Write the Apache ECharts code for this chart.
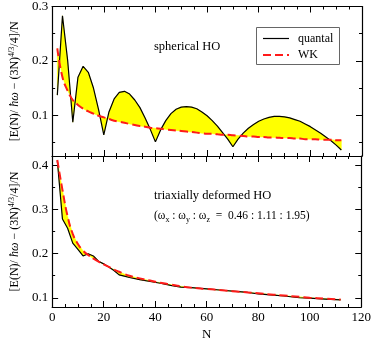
<!DOCTYPE html>
<html>
<head>
<meta charset="utf-8">
<script src="https://cdn.jsdelivr.net/npm/echarts@6/dist/echarts.min.js"></script>
<style>
  html, body { margin: 0; padding: 0; background: #fff; }
  #main { width: 374px; height: 342px; }
</style>
</head>
<body>
<div id="main"></div>
<script>
// spherical HO (upper panel), even particle numbers
var sphN = [2, 4, 6, 8, 10, 12, 14, 16, 18, 20,
  22, 24, 26, 28, 30, 32, 34, 36, 38, 40,
  42, 44, 46, 48, 50, 52, 54, 56, 58, 60, 62, 64, 66, 68, 70,
  72, 74, 76, 78, 80, 82, 84, 86, 88, 90, 92, 94, 96, 98, 100, 102, 104, 106, 108, 110, 112]
var sphQuantal = [0.137, 0.283, 0.201, 0.087, 0.170, 0.190, 0.179, 0.150, 0.110, 0.064,
  0.106, 0.130, 0.142, 0.144, 0.139, 0.128, 0.114, 0.095, 0.074, 0.051,
  0.073, 0.090, 0.103, 0.111, 0.115, 0.116, 0.115, 0.112, 0.106, 0.099, 0.090, 0.080, 0.068, 0.056, 0.042,
  0.056, 0.067, 0.076, 0.083, 0.089, 0.093, 0.096, 0.098, 0.098, 0.097, 0.095, 0.092, 0.089, 0.084, 0.079,
  0.073, 0.067, 0.060, 0.053, 0.045, 0.036]
var sphWK = [0.223, 0.170, 0.145, 0.128, 0.119, 0.112, 0.107, 0.103, 0.099, 0.096,
  0.093, 0.090, 0.088, 0.086, 0.084, 0.082, 0.080, 0.079, 0.077, 0.076,
  0.075, 0.074, 0.073, 0.072, 0.071, 0.070, 0.069, 0.068, 0.067, 0.066, 0.066, 0.065, 0.064, 0.064, 0.063,
  0.0625, 0.062, 0.061, 0.061, 0.060, 0.060, 0.059, 0.059, 0.0585, 0.058, 0.058, 0.057, 0.057, 0.056, 0.056,
  0.056, 0.055, 0.055, 0.055, 0.054, 0.054]

// triaxially deformed HO (lower panel)
var triN = [2, 4, 6, 8, 10, 12, 14, 16, 18, 20, 22, 24, 26, 28, 30, 34, 38, 42, 46, 50,
  54, 60, 66, 70, 76, 80, 86, 90, 96, 100, 106, 112]
var triQuantal = [0.412, 0.279, 0.258, 0.224, 0.210, 0.195, 0.200, 0.195, 0.183, 0.177,
  0.170, 0.162, 0.152, 0.149, 0.146, 0.141, 0.137, 0.133, 0.128, 0.124,
  0.123, 0.120, 0.117, 0.115, 0.112, 0.109, 0.106, 0.104, 0.100, 0.099, 0.097, 0.095]
var triWK = [0.413, 0.345, 0.285, 0.245, 0.222, 0.207, 0.197, 0.189, 0.182, 0.176,
  0.170, 0.164, 0.159, 0.154, 0.150, 0.144, 0.139, 0.134, 0.130, 0.126,
  0.123, 0.120, 0.117, 0.115, 0.112, 0.110, 0.107, 0.105, 0.102, 0.100, 0.098, 0.096]

var topMajor = [0.1, 0.2, 0.3]
var topMinor = [0.05, 0.15, 0.25]
var botMajor = [0.1, 0.2, 0.3, 0.4]
var botMinor = [0.15, 0.25, 0.35]

var serif = 'Liberation Serif'
var red = '#ff1a1a'

// outline of the region between two curves: lower edge forward, upper edge back,
// with the crossing points added so both edges meet there
function bandOutline(xs, a, b) {
  var lo = [], hi = []
  for (var i = 0; i < xs.length; i++) {
    lo.push([xs[i], Math.min(a[i], b[i])])
    hi.push([xs[i], Math.max(a[i], b[i])])
    if (i < xs.length - 1) {
      var d0 = a[i] - b[i], d1 = a[i + 1] - b[i + 1]
      if (d0 * d1 < 0) {
        var t = d0 / (d0 - d1)
        var p = [xs[i] + t * (xs[i + 1] - xs[i]), a[i] + t * (a[i + 1] - a[i])]
        lo.push(p)
        hi.push(p)
      }
    }
  }
  return lo.concat(hi.reverse())
}

function pairs(xs, ys) {
  return xs.map(function(x, i) { return [x, ys[i]] })
}

function bandSeries(outline, xi, yi) {
  return {
    type: 'custom', xAxisIndex: xi, yAxisIndex: yi, silent: true, z: 1,
    data: [[0]],
    renderItem: function(params, api) {
      var pts = outline.map(function(p) { return api.coord(p) })
      return {
        type: 'polygon',
        shape: { points: pts },
        style: { fill: '#ffff00', stroke: '#ffff00', lineWidth: 0.5 }
      }
    }
  }
}

function xAx(grid, pos, labels) {
  return {
    type: 'value', gridIndex: grid, position: pos, min: 0, max: 120, interval: 20,
    axisLine: { show: true, onZero: false, lineStyle: { color: '#000', width: 1.2 } },
    axisTick: { show: true, inside: true, length: 6, lineStyle: { color: '#000' } },
    minorTick: { show: true, splitNumber: 4, length: 3, lineStyle: { color: '#000' } },
    splitLine: { show: false },
    axisLabel: { show: labels, color: '#000', fontFamily: serif, fontSize: 13, margin: 4 },
    name: labels ? 'N' : '',
    nameLocation: 'middle',
    nameGap: 21,
    nameTextStyle: { color: '#000', fontFamily: serif, fontSize: 13 }
  }
}

function yAx(grid, pos, min, max, vals, minor, showLabel) {
  var ax = {
    type: 'value', gridIndex: grid, position: pos, min: min, max: max,
    axisLine: { show: !minor, onZero: false, lineStyle: { color: '#000', width: 1.2 } },
    axisTick: { show: true, inside: true, length: minor ? 3 : 6, customValues: vals, lineStyle: { color: '#000' } },
    splitLine: { show: false },
    axisLabel: { show: showLabel, customValues: vals, color: '#000', fontFamily: serif, fontSize: 13, margin: 4 }
  }
  if (showLabel) {
    ax.name = '[E(N)/ {i|ħω} − (3N){sup|4/3}/4]/N'
    ax.nameLocation = 'middle'
    ax.nameRotate = 90
    ax.nameGap = 22
    ax.nameTextStyle = {
      color: '#000', fontFamily: serif, fontSize: 12,
      rich: {
        i: { fontFamily: serif, fontSize: 12, fontStyle: 'italic', color: '#000' },
        sup: { fontFamily: serif, fontSize: 8, verticalAlign: 'top', color: '#000', padding: [0, 0, 6, 0] }
      }
    }
  }
  return ax
}

var chart = echarts.init(document.getElementById('main'))

var option = {
  animation: false,
  title: [
    {
      text: 'spherical HO', left: 154, top: 40, padding: 0,
      textStyle: { color: '#000', fontFamily: serif, fontSize: 12.5, fontWeight: 'normal' }
    },
    {
      text: 'triaxially deformed HO', left: 154, top: 189, padding: 0,
      textStyle: { color: '#000', fontFamily: serif, fontSize: 12.5, fontWeight: 'normal' }
    },
    {
      text: '(ω{s|x} : ω{s|y} : ω{s|z}  =  0.46 : 1.11 : 1.95)', left: 154, top: 208, padding: 0,
      textStyle: {
        color: '#000', fontFamily: serif, fontSize: 11.5, fontWeight: 'normal', lineHeight: 16,
        rich: {
          s: { color: '#000', fontFamily: serif, fontSize: 8, verticalAlign: 'bottom', lineHeight: 16 }
        }
      }
    }
  ],
  grid: [
    { left: 41, top: 5, width: 321, height: 151 },
    { left: 41, top: 156, width: 321, height: 156 }
  ],
  xAxis: [
    xAx(0, 'bottom', false),
    xAx(0, 'top', false),
    xAx(1, 'bottom', true),
    xAx(1, 'top', false)
  ],
  yAxis: [
    yAx(0, 'left', 0.025, 0.3, topMajor, false, true),
    yAx(0, 'left', 0.025, 0.3, topMinor, true, false),
    yAx(0, 'right', 0.025, 0.3, topMajor, false, false),
    yAx(0, 'right', 0.025, 0.3, topMinor, true, false),
    yAx(1, 'left', 0.079, 0.422, botMajor, false, true),
    yAx(1, 'left', 0.079, 0.422, botMinor, true, false),
    yAx(1, 'right', 0.079, 0.422, botMajor, false, false),
    yAx(1, 'right', 0.079, 0.422, botMinor, true, false)
  ],
  // legend box drawn by hand so the line samples carry no symbols
  graphic: [
    { type: 'rect', shape: { x: 256.5, y: 27.5, width: 83, height: 37 }, style: { fill: '#fff', stroke: '#666', lineWidth: 1 }, z: 10 },
    { type: 'line', shape: { x1: 263, y1: 38.5, x2: 289, y2: 38.5 }, style: { stroke: '#000', lineWidth: 1.2 }, z: 11 },
    { type: 'line', shape: { x1: 263, y1: 55, x2: 289, y2: 55 }, style: { stroke: red, lineWidth: 2, lineDash: [8, 4] }, z: 11 },
    { type: 'text', x: 298, y: 38.5, style: { text: 'quantal', fill: '#000', fontFamily: serif, fontSize: 12, verticalAlign: 'middle' }, z: 11 },
    { type: 'text', x: 298, y: 55, style: { text: 'WK', fill: '#000', fontFamily: serif, fontSize: 12, verticalAlign: 'middle' }, z: 11 }
  ],
  series: [
    bandSeries(bandOutline(sphN, sphQuantal, sphWK), 0, 0),
    {
      name: 'quantal', type: 'line', xAxisIndex: 0, yAxisIndex: 0,
      data: pairs(sphN, sphQuantal), symbol: 'none',
      lineStyle: { color: '#000', width: 1.2 }
    },
    {
      name: 'WK', type: 'line', xAxisIndex: 0, yAxisIndex: 0, smooth: true,
      data: pairs(sphN, sphWK), symbol: 'none',
      lineStyle: { color: red, width: 2, type: [8, 4] }
    },
    bandSeries(bandOutline(triN, triQuantal, triWK), 2, 4),
    {
      name: 'quantal', type: 'line', xAxisIndex: 2, yAxisIndex: 4,
      data: pairs(triN, triQuantal), symbol: 'none',
      lineStyle: { color: '#000', width: 1.2 }
    },
    {
      name: 'WK', type: 'line', xAxisIndex: 2, yAxisIndex: 4, smooth: true,
      data: pairs(triN, triWK), symbol: 'none',
      lineStyle: { color: red, width: 2, type: [8, 4] }
    }
  ]
}

chart.setOption(option)
</script>
</body>
</html>
